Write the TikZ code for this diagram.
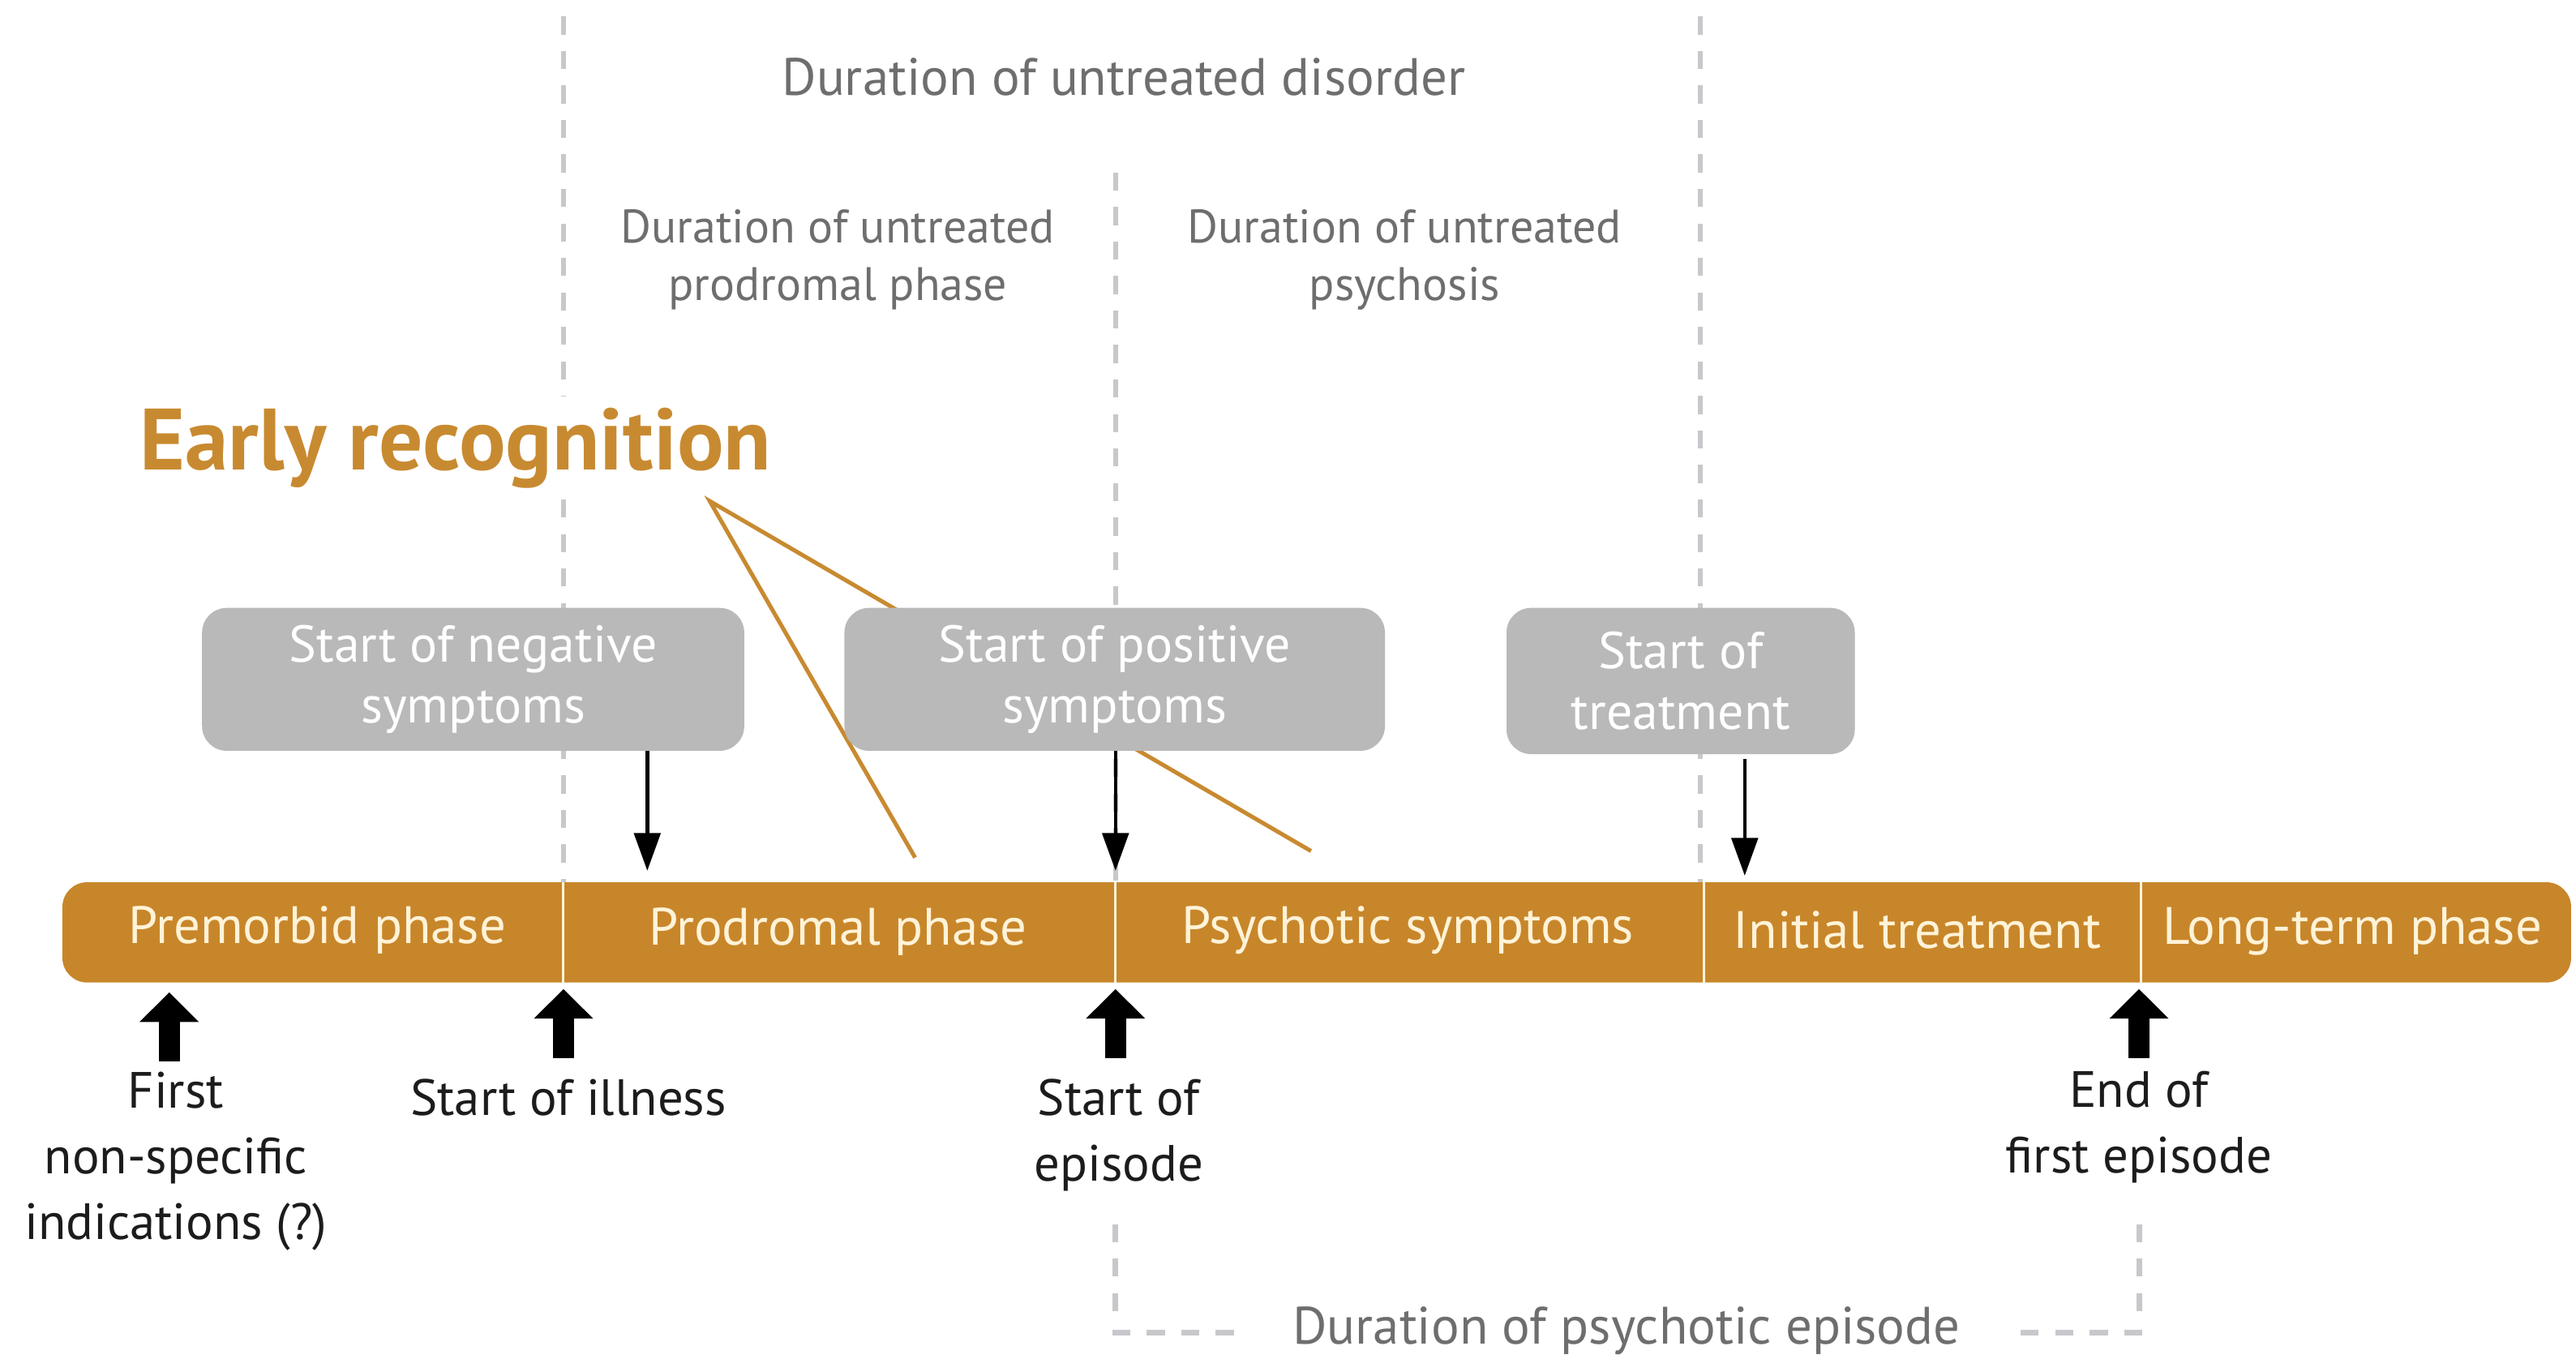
\documentclass[tikz,border=0pt]{standalone}
\usepackage{fontspec}
\setmainfont{PT Sans}
\usetikzlibrary{arrows.meta}
\definecolor{barorange}{HTML}{C8862A}
\definecolor{ertext}{HTML}{C88A30}
\definecolor{boxgray}{HTML}{B9B9B9}
\definecolor{durtext}{HTML}{6E6E6E}
\definecolor{dashgray}{HTML}{C8C8CC}
\definecolor{bartext}{HTML}{FFF3D8}
\definecolor{lbltext}{HTML}{1C1C1C}
\begin{document}
\begin{tikzpicture}[x=1pt,y=-1pt,
  dur/.style={text=durtext,font=\fontsize{32}{35}\selectfont,align=center,inner sep=0pt},
  dursmall/.style={text=durtext,font=\fontsize{28.6}{35}\selectfont,align=center,inner sep=0pt},
  bartxt/.style={text=bartext,font=\fontsize{32}{35}\selectfont,inner sep=0pt},
  gbox/.style={fill=boxgray,rounded corners=15pt,text=white,font=\fontsize{31.5}{37}\selectfont,align=center,inner sep=0pt},
  lbl/.style={text=lbltext,font=\fontsize{31}{40}\selectfont,align=center,inner sep=0pt},
  dashline/.style={dashgray,line width=3pt,dash pattern=on 11pt off 10pt},
  brkline/.style={dashgray,line width=3.5pt,dash pattern=on 11pt off 10pt},
  orline/.style={ertext,line width=2.5pt},
  thinarr/.style={black,line width=2.2pt,-{Triangle[width=16pt,length=23pt]}},
  thickarr/.style={black,line width=13pt,-{Triangle[width=35pt,length=18pt]}},
  divider/.style={bartext,line width=1.5pt}
]
\useasboundingbox (0,0) rectangle (1568,827);
\fill[white] (0,0) rectangle (1568,827);

% guide coordinates
\coordinate (g1t) at (343,10);
\coordinate (g1b) at (343,537);
\coordinate (g2t) at (679,105);
\coordinate (g2b) at (679,537);
\coordinate (g3t) at (1035,10);
\coordinate (g3b) at (1035,537);
\draw[dashline] (g1t) -- (g1b);
\draw[dashline] (g2t) -- (g2b);
\draw[dashline] (g3t) -- (g3b);

% duration labels
\node[dur] (dud) at (684,47) {Duration of untreated disorder};
\node[dursmall] (dup) at (510,158) {Duration of untreated\\prodromal phase};
\node[dursmall] (dus) at (855,158) {Duration of untreated\\psychosis};

% early recognition
\node[text=ertext,fill=white,font=\fontsize{53}{60}\selectfont\bfseries,anchor=base west,inner xsep=0pt,inner ysep=7pt] (er) at (85,286) {Early recognition};
\coordinate (erp) at (432,305);
\coordinate (ora) at (557,522);
\coordinate (orb) at (798,518);
\draw[orline] (ora) -- (erp) -- (orb);

% boxes
\node[gbox,minimum width=330pt,minimum height=87pt] (nb) at (288,413.5) {Start of negative\\symptoms};
\node[gbox,minimum width=329pt,minimum height=87pt] (pb) at (678.5,413.5) {Start of positive\\symptoms};
\node[gbox,minimum width=212pt,minimum height=89pt] (tb) at (1023,414.5) {Start of\\treatment};

% bar
\fill[barorange,rounded corners=15pt] (38,537) rectangle (1565,598);
\draw[divider] (343,537) -- (343,598);
\draw[divider] (679,537) -- (679,598);
\draw[divider] (1037,537) -- (1037,598);
\draw[divider] (1303,537) -- (1303,598);
\node[bartxt] (s1) at (193,566) {Premorbid phase};
\node[bartxt] (s2) at (510,567) {Prodromal phase};
\node[bartxt] (s3) at (857,566) {Psychotic symptoms};
\node[bartxt] (s4) at (1167,566) {Initial treatment};
\node[bartxt] (s5) at (1432,567) {Long-term phase};

% down arrows
\coordinate (t1) at (394,530);
\coordinate (t2) at (679,530);
\coordinate (t3) at (1062,533);
\draw[thinarr] (nb.south -| t1) -- (t1);
\draw[thinarr] (pb.south -| t2) -- (t2);
\draw[thinarr] ([yshift=-3pt]tb.south -| t3) -- (t3);

% labels under bar
\node[lbl] (fi) at (107,707) {First\\non-specific\\indications (?)};
\node[lbl] (si) at (346,668) {Start of illness};
\node[lbl] (se) at (681,691) {Start of\\episode};
\node[lbl] (ee) at (1302,686) {End of\\first episode};

% up arrows
\coordinate (u1b) at (103,646); \coordinate (u1t) at (103,604);
\coordinate (u2b) at (343,644); \coordinate (u2t) at (343,602);
\coordinate (u3b) at (679,644); \coordinate (u3t) at (679,602);
\coordinate (u4b) at (1302,644); \coordinate (u4t) at (1302,602);
\draw[thickarr] (u1b) -- (u1t);
\draw[thickarr] (u2b) -- (u2t);
\draw[thickarr] (u3b) -- (u3t);
\draw[thickarr] (u4b) -- (u4t);

% psychotic episode bracket
\node[dur] (pe) at (990,810) {Duration of psychotic episode};
\coordinate (b1t) at (679,745);
\coordinate (b1c) at (679,800);
\coordinate (b1h) at (677,811);
\coordinate (b1e) at (756,811);
\coordinate (b2t) at (1302,745);
\coordinate (b2c) at (1302,800);
\coordinate (b2h) at (1304,811);
\coordinate (b2e) at (1226,811);
\draw[brkline] (b1t) -- (b1c);
\draw[brkline] (b1h) -- (b1e);
\draw[brkline] (b2t) -- (b2c);
\draw[brkline] (b2h) -- (b2e);
\end{tikzpicture}
\end{document}
